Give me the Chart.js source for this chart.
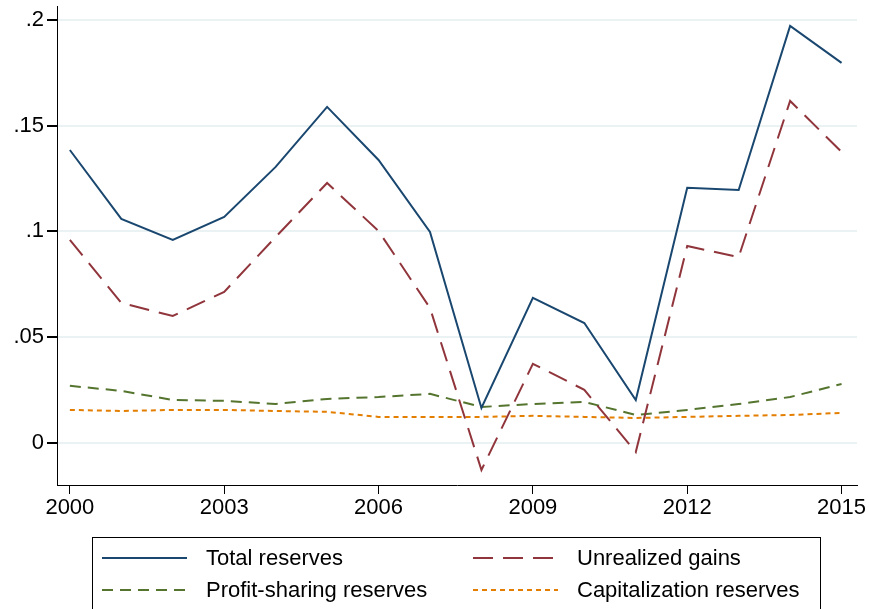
<!DOCTYPE html>
<html lang="en">
<head>
    <meta charset="UTF-8">
    <title>Reserves</title>
    <script src="https://cdn.jsdelivr.net/npm/chart.js"></script>
    <style>
        body { margin: 0; background: #fff; }
    </style>
</head>
<body>
    <canvas id="myChart" width="869" height="609"></canvas>
    <script>
        // Input data
        const years = [2000, 2001, 2002, 2003, 2004, 2005, 2006, 2007, 2008, 2009, 2010, 2011, 2012, 2013, 2014, 2015];
        const totalReserves = [0.1385, 0.1059, 0.0960, 0.1069, 0.1305, 0.1589, 0.1338, 0.0998, 0.0165, 0.0686, 0.0567, 0.0203, 0.1206, 0.1196, 0.1972, 0.1797];
        const unrealizedGains = [0.0960, 0.0662, 0.0600, 0.0714, 0.0974, 0.1229, 0.1002, 0.0638, -0.0128, 0.0374, 0.0251, -0.0043, 0.0931, 0.0879, 0.1617, 0.1376];
        const profitSharing = [0.0270, 0.0246, 0.0203, 0.0199, 0.0184, 0.0208, 0.0217, 0.0232, 0.0170, 0.0184, 0.0194, 0.0132, 0.0156, 0.0184, 0.0217, 0.0279];
        const capitalization = [0.0156, 0.0151, 0.0156, 0.0156, 0.0151, 0.0147, 0.0123, 0.0123, 0.0123, 0.0128, 0.0123, 0.0118, 0.0123, 0.0128, 0.0132, 0.0142];
        const xTicks = [2000, 2003, 2006, 2009, 2012, 2015];
        const yTicks = [0, 0.05, 0.1, 0.15, 0.2];
        const yTickLabels = ['0', '.05', '.1', '.15', '.2'];

        const pts = arr => arr.map((v, i) => ({ x: years[i], y: v }));
        const font = { family: 'Liberation Sans, Arial, sans-serif', size: 22 };

        // legend box drawn under the plot, like Stata
        const boxLegend = {
            id: 'boxLegend',
            afterDraw(chart) {
                const ctx = chart.ctx;
                ctx.save();
                ctx.strokeStyle = '#000';
                ctx.lineWidth = 1;
                ctx.strokeRect(92.5, 537.5, 728, 80);
                ctx.font = '22px Liberation Sans, Arial, sans-serif';
                ctx.textBaseline = 'middle';
                ctx.fillStyle = '#000';
                const cols = [102, 473];
                const rows = [558, 590];
                chart.data.datasets.forEach((ds, i) => {
                    const x = cols[i % 2], y = rows[Math.floor(i / 2)];
                    ctx.strokeStyle = ds.borderColor;
                    ctx.lineWidth = ds.borderWidth;
                    ctx.setLineDash(ds.borderDash || []);
                    ctx.beginPath();
                    ctx.moveTo(x, y);
                    ctx.lineTo(x + 85, y);
                    ctx.stroke();
                    ctx.setLineDash([]);
                    ctx.fillText(ds.label, x + 104, y + 1);
                });
                ctx.restore();
            }
        };

        const ctx = document.getElementById('myChart').getContext('2d');
        const myChart = new Chart(ctx, {
            type: 'line',
            data: {
                datasets: [
                    { label: 'Total reserves', data: pts(totalReserves), borderColor: '#1a476f', borderWidth: 2 },
                    { label: 'Unrealized gains', data: pts(unrealizedGains), borderColor: '#90353b', borderWidth: 2, borderDash: [20, 10] },
                    { label: 'Profit-sharing reserves', data: pts(profitSharing), borderColor: '#55752f', borderWidth: 2, borderDash: [11, 7] },
                    { label: 'Capitalization reserves', data: pts(capitalization), borderColor: '#e37e00', borderWidth: 2, borderDash: [5, 4] }
                ]
            },
            options: {
                responsive: false,
                animation: false,
                elements: { point: { radius: 0 }, line: { tension: 0 } },
                layout: { padding: { top: 6, right: 12, left: 0, bottom: 0 } },
                plugins: {
                    legend: { display: false },
                    tooltip: { enabled: false }
                },
                scales: {
                    x: {
                        type: 'linear',
                        min: 1999.75,
                        max: 2015.3,
                        afterBuildTicks: axis => { axis.ticks = xTicks.map(v => ({ value: v })); },
                        afterFit: axis => { axis.height = 124; axis.paddingLeft = 0; axis.paddingRight = 0; },
                        grid: { color: 'rgba(0,0,0,0)', tickColor: '#000', tickLength: 9, drawOnChartArea: false },
                        border: { display: true, color: '#000', width: 1 },
                        ticks: { color: '#000', font: font, padding: 1, maxRotation: 0, callback: v => String(v) }
                    },
                    y: {
                        min: -0.0199,
                        max: 0.2066,
                        afterBuildTicks: axis => { axis.ticks = yTicks.map(v => ({ value: v })); },
                        afterFit: axis => { axis.width = 57; axis.paddingTop = 0; axis.paddingBottom = 0; },
                        grid: { color: '#eaf2f3', lineWidth: 2, tickColor: '#000', tickLength: 10 },
                        border: { display: true, color: '#000', width: 1 },
                        ticks: { color: '#000', font: font, padding: 3,
                            callback: v => { const i = yTicks.indexOf(v); return i >= 0 ? yTickLabels[i] : ''; } }
                    }
                }
            },
            plugins: [boxLegend]
        });
    </script>
</body>
</html>
